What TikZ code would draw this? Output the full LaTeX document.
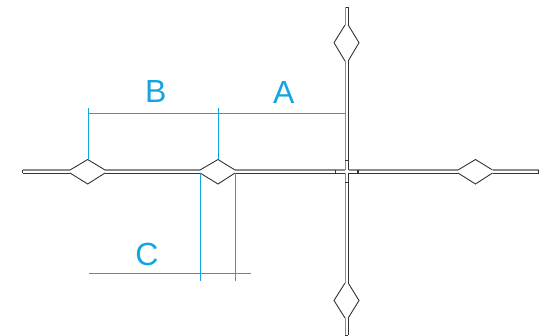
\documentclass[tikz,border=0pt]{standalone}
\usepackage{fontspec}
\setmainfont{Liberation Sans}
\definecolor{dimblue}{HTML}{12A5E2}
\definecolor{wiredark}{HTML}{333333}
\definecolor{wiregray}{HTML}{8C8C8C}
\tikzset{
  wirelit/.style={draw=wiregray,line width=1.4pt},
  wiredk/.style={draw=wiredark,line width=0.9pt},
  outline/.style={draw=wiredark,line width=0.9pt,line join=miter},
  tick/.style={draw=wiredark,line width=0.9pt},
  dimline/.style={draw=dimblue,line width=1pt},
  dimlabel/.style={text=dimblue,font=\fontsize{32}{32}\selectfont,inner sep=0pt,anchor=center}
}
\begin{document}
\begin{tikzpicture}[x=1pt,y=-1pt]
\useasboundingbox (0,0) rectangle (553,336);
% horizontal strip
\draw[wiredk] (22.5,170) -- (22.5,173);
\draw[wirelit] (22.5,170.2) -- (70,170.2) (105,170.2) -- (200,170.2) (235,170.2) -- (345,170.2);
\draw[wiredk] (22.5,173) -- (70,173) (105,173) -- (200,173) (235,173) -- (345,173);
\draw[wirelit] (348.5,170.2) -- (458,170.2) (492.5,170.2) -- (538.5,170.2);
\draw[wiredk] (348.5,173) -- (458,173) (492.5,173) -- (538.5,173);
\draw[wiredk] (538.5,170) -- (538.5,173);
% vertical strip
\draw[wiredk] (345,7.5) -- (348.2,7.5);
\draw[wirelit] (345.2,7.5) -- (345.2,25) (345.2,61) -- (345.2,170);
\draw[wiredk] (348.2,7.5) -- (348.2,25) (348.2,61) -- (348.2,170);
\draw[wirelit] (345.2,173) -- (345.2,283) (345.2,318) -- (345.2,335);
\draw[wiredk] (348.2,173) -- (348.2,283) (348.2,318) -- (348.2,335);
\draw[wiredk] (345,335) -- (348.2,335);
% diamonds
\draw[outline] (70,170) -- (87.7,159.5) -- (105,170) (70,173) -- (87.7,184) -- (105,173);
\draw[outline] (200,170) -- (218,159.5) -- (235,170) (200,173) -- (218,184) -- (235,173);
\draw[outline] (458,170) -- (475.5,159.5) -- (492.5,170) (458,173) -- (475.5,184) -- (492.5,173);
\draw[outline] (345,25) -- (334,42.7) -- (345,61) (348.2,25) -- (359,42.7) -- (348.2,61);
\draw[outline] (345,283) -- (334,300.5) -- (345,318) (348.2,283) -- (359,300.5) -- (348.2,318);
% centre ticks
\draw[tick] (335.3,170) -- (335.3,173);
\draw[tick,line width=1.6pt] (357.7,170) -- (357.7,173);
\draw[tick] (345,160.3) -- (348.2,160.3);
\draw[tick,line width=1.6pt] (345,182.7) -- (348.2,182.7);
% dimensions
\draw[dimline] (88,114) -- (345,114);
\draw[dimline] (88,108) -- (88,159.5);
\draw[dimline] (218,108) -- (218,159.5);
\draw[dimline] (89.3,273.3) -- (251,273.3);
\draw[dimline] (200.3,173.5) -- (200.3,280.7);
\draw[dimline] (235.3,173.5) -- (235.3,280.7);
\node[dimlabel] (labelA) at (283.7,92.5) {A};
\node[dimlabel] (labelB) at (155.8,91.7) {B};
\node[dimlabel] (labelC) at (147,254.7) {C};
\end{tikzpicture}
\end{document}
